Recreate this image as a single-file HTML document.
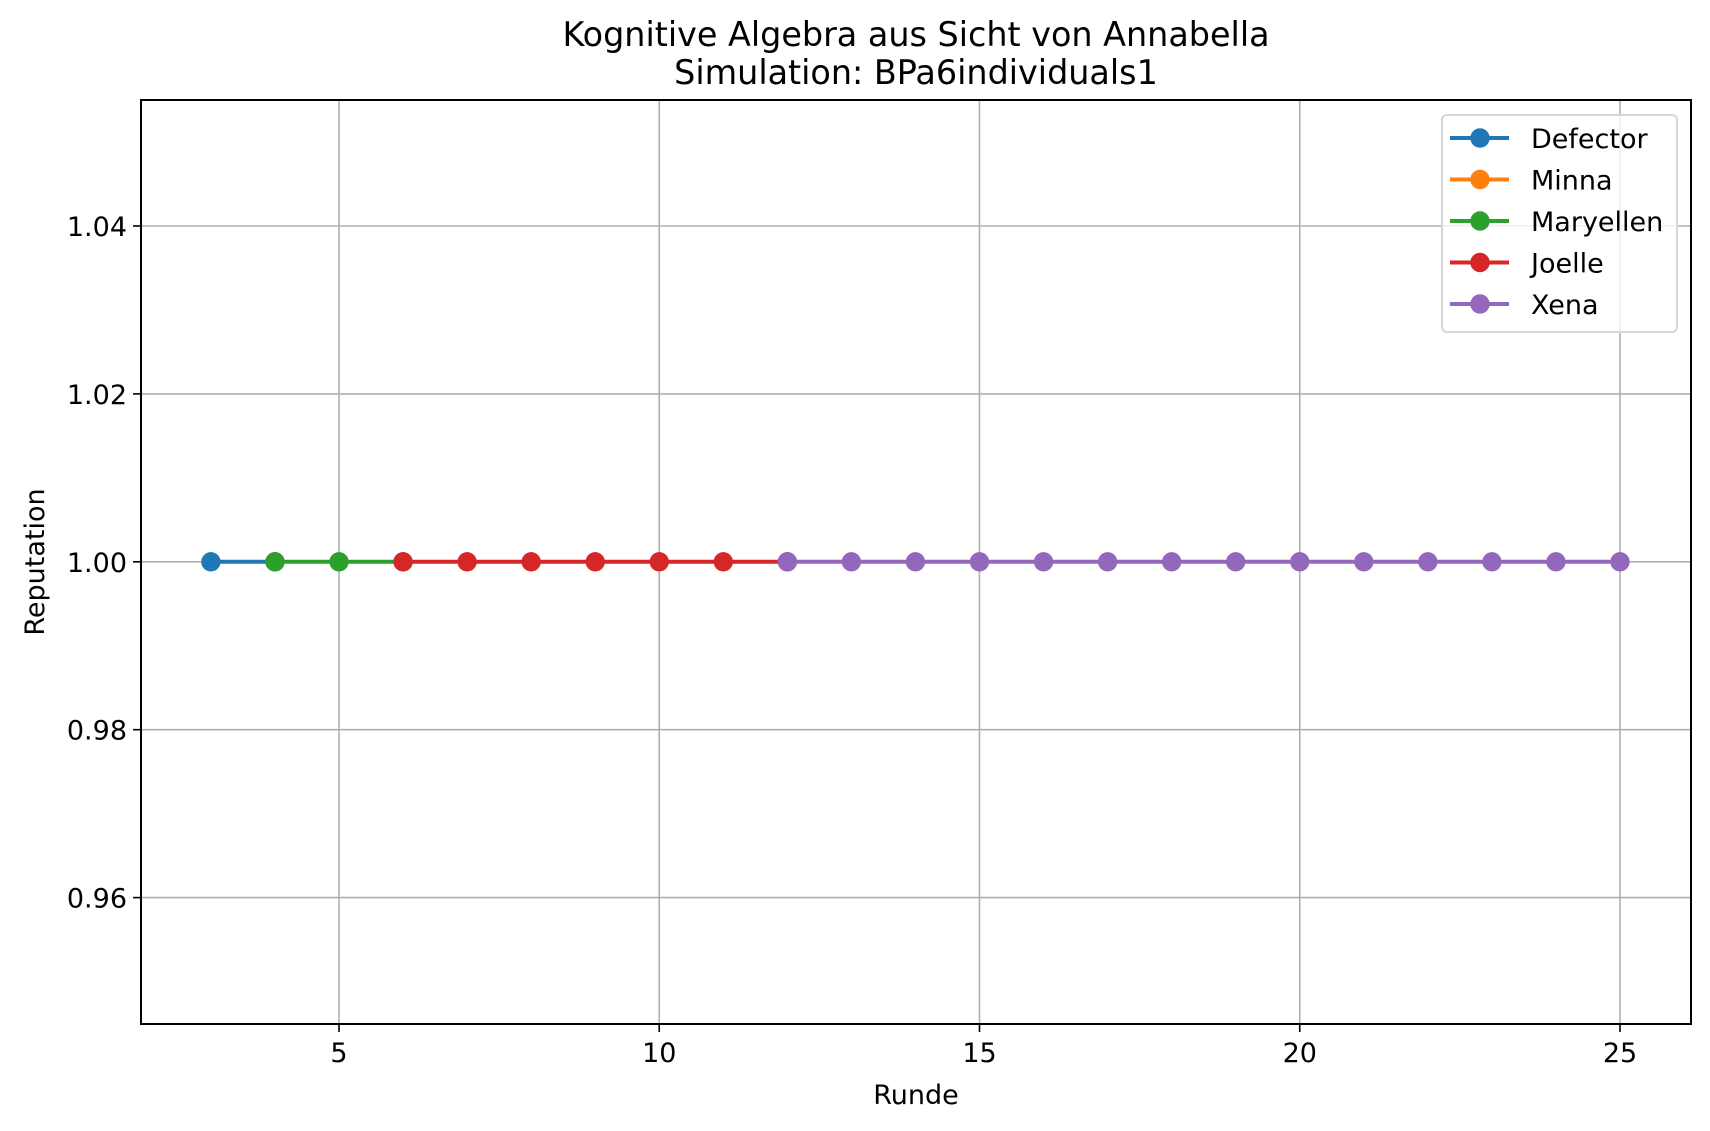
<!DOCTYPE html>
<html><head><meta charset="utf-8"><style>
html,body{margin:0;padding:0;background:#fff;}
svg{display:block;font-family:"DejaVu Sans","Liberation Sans",sans-serif;}
</style></head><body>
<svg id="chart" width="1710" height="1131" viewBox="0 0 1710 1131">
<rect width="1710" height="1131" fill="#fff"/>
<g id="grid"></g>
<g id="series"></g>
<rect x="141" y="100" width="1550" height="924" fill="none" stroke="#000" stroke-width="2"/>
<g id="ticks"></g>
<text x="916" y="46" text-anchor="middle" font-size="33.4">Kognitive Algebra aus Sicht von Annabella</text>
<text x="916" y="84" text-anchor="middle" font-size="33.4">Simulation: BPa6individuals1</text>
<text x="916" y="1104" text-anchor="middle" font-size="27">Runde</text>
<text transform="translate(44,562) rotate(-90)" text-anchor="middle" font-size="27">Reputation</text>
<g id="legend"></g>
</svg>
<script>
const seriesNames = ["Defector","Minna","Maryellen","Joelle","Xena"];
const seriesColors = ["#1f77b4","#ff7f0e","#2ca02c","#d62728","#9467bd"];
const defectorX = [3,4];
const defectorY = [1,1];
const minnaX = [4];
const minnaY = [1];
const maryellenX = [4,5,6];
const maryellenY = [1,1,1];
const joelleX = [6,7,8,9,10,11,12];
const joelleY = [1,1,1,1,1,1,1];
const xenaX = [12,13,14,15,16,17,18,19,20,21,22,23,24,25];
const xenaY = [1,1,1,1,1,1,1,1,1,1,1,1,1,1];
const xTicks = [5,10,15,20,25];
const yTicks = [0.96,0.98,1.00,1.02,1.04];
const yTickLabels = ["0.96","0.98","1.00","1.02","1.04"];

const NS="http://www.w3.org/2000/svg";
const L=141,R=1691,T=100,B=1024;
function xs(v){return 339+(v-5)*64.05;}
function ys(v){return 561.8-(v-1)*8395;}
function mk(tag,attrs,parent){const e=document.createElementNS(NS,tag);for(const k in attrs)e.setAttribute(k,attrs[k]);parent.appendChild(e);return e;}
const grid=document.getElementById('grid'),ticks=document.getElementById('ticks'),ser=document.getElementById('series'),leg=document.getElementById('legend');
xTicks.forEach(v=>{
  const x=xs(v);
  const g=mk('line',{x1:x,x2:x,y1:T,y2:B,stroke:'#b0b0b0','stroke-width':1.6},grid);
  
  
  const t=mk('line',{x1:x,x2:x,y1:B,y2:B+8,stroke:'#000','stroke-width':1.6},ticks);
  
  
  const l=mk('text',{x:x,y:B+38,'text-anchor':'middle','font-size':27},ticks);
  l.textContent=String(v);
  
  
});
yTicks.forEach((v,i)=>{
  const y=ys(v);
  const g=mk('line',{x1:L,x2:R,y1:y,y2:y,stroke:'#b0b0b0','stroke-width':1.6},grid);
  
  
  const t=mk('line',{x1:L-8,x2:L,y1:y,y2:y,stroke:'#000','stroke-width':1.6},ticks);
  
  
  const l=mk('text',{x:L-14,y:y+10,'text-anchor':'end','font-size':27},ticks);
  l.textContent=yTickLabels[i];
  
  
});
const allX=[defectorX,minnaX,maryellenX,joelleX,xenaX];
const allY=[defectorY,minnaY,maryellenY,joelleY,xenaY];
allX.forEach((xa,si)=>{
  const g=mk('g',{},ser);
  
  
  const pts=xa.map((x,i)=>xs(x)+','+ys(allY[si][i])).join(' ');
  if(xa.length>1){
    const pl=mk('polyline',{points:pts,fill:'none',stroke:seriesColors[si],'stroke-width':4},g);
    
    
  }
  xa.forEach((x,i)=>{
    const c=mk('circle',{cx:xs(x),cy:ys(allY[si][i]),r:9.7,fill:seriesColors[si]},g);
    
    
  });
});
const box=mk('rect',{x:1442,y:115,width:235,height:217,rx:5,fill:'#fff','fill-opacity':0.8,stroke:'#d6d6d6','stroke-width':2},leg);


seriesNames.forEach((n,i)=>{
  const y=138+i*41.5;
  const g=mk('g',{},leg);
  
  
  mk('line',{x1:1450,x2:1509,y1:y,y2:y,stroke:seriesColors[i],'stroke-width':4},g);
  mk('circle',{cx:1480,cy:y,r:9.7,fill:seriesColors[i]},g);
  const t=mk('text',{x:1531,y:y+10,'font-size':27},g);
  t.textContent=n;
});
</script>
</body></html>
